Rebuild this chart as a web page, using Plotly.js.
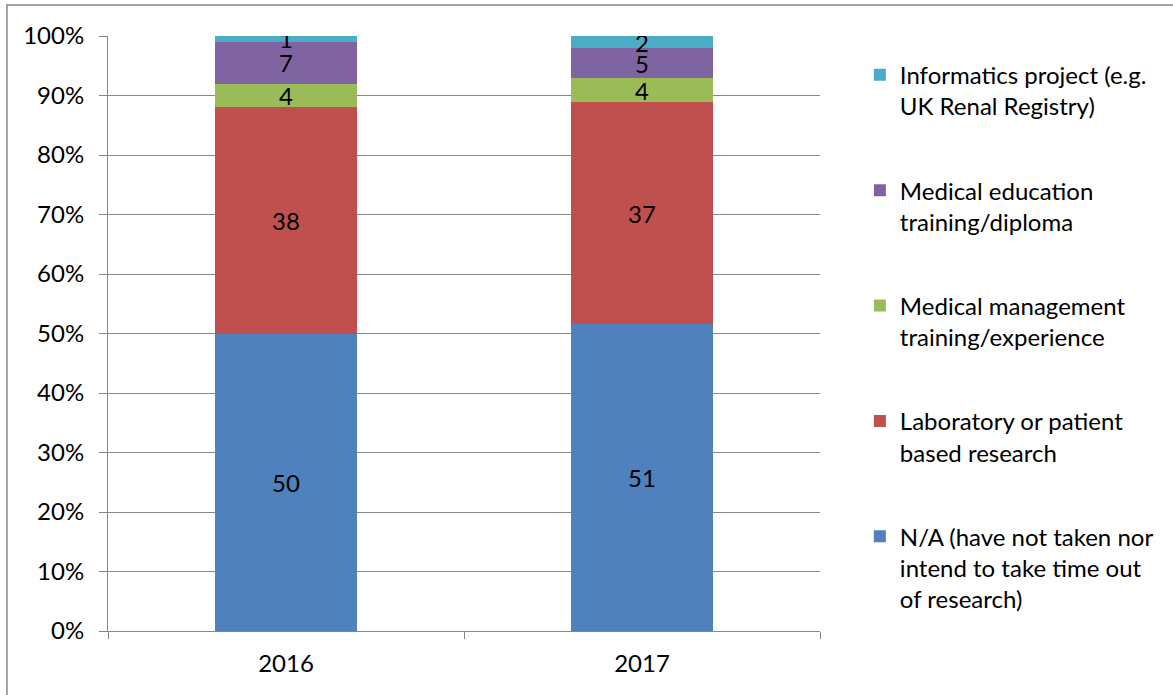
<!DOCTYPE html>
<html>
<head>
<meta charset="utf-8">
<script src="https://cdn.plot.ly/plotly-3.0.1.min.js"></script>
<style>html,body{margin:0;padding:0;background:#fff;}#chart{width:1173px;height:695px;}</style>
</head>
<body>
<div id="chart"></div>
<script>
const years = ['2016', '2017'];
const naValues = [50, 51];
const labValues = [38, 37];
const mgmtValues = [4, 4];
const eduValues = [7, 5];
const infoValues = [1, 2];
const seriesNames = [
  'N/A (have not taken nor<br>intend to take time out<br>of research)',
  'Laboratory or patient<br>based research',
  'Medical management<br>training/experience',
  'Medical education<br>training/diploma',
  'Informatics project (e.g.<br>UK Renal Registry)'
];
const seriesColors = ['#4F81BD', '#C0504D', '#9BBB59', '#8064A2', '#4BACC6'];
const seriesValues = [naValues, labValues, mgmtValues, eduValues, infoValues];

const FONT = 'Lato, "Open Sans", sans-serif';
const FS = 24;
const traces = seriesValues.map((vals, i) => ({
  type: 'bar',
  x: years,
  y: vals,
  name: seriesNames[i],
  legendgroup: 'g' + i,
  legendrank: 100 - i,
  marker: {color: seriesColors[i], line: {width: 0}},
  text: vals.map(String),
  textposition: 'inside',
  insidetextanchor: 'middle',
  constraintext: 'none',
  textangle: 0,
  textfont: {family: FONT, size: FS, color: '#000000'},
  hoverinfo: 'skip'
}));

const layout = {
  width: 1173,
  height: 695,
  barmode: 'stack',
  barnorm: 'percent',
  bargap: 0.6,
  margin: {l: 108, r: 353, t: 36, b: 64},
  paper_bgcolor: '#ffffff',
  plot_bgcolor: '#ffffff',
  font: {family: FONT, size: FS, color: '#000000'},
  showlegend: true,
  legend: {
    x: 1.056, xanchor: 'left', y: 0.972, yanchor: 'top',
    traceorder: 'grouped',
    tracegroupgap: 50,
    valign: 'top',
    font: {family: FONT, size: FS, color: '#000000'},
    bgcolor: 'rgba(0,0,0,0)'
  },
  xaxis: {
    type: 'category',
    showgrid: false,
    showline: true,
    linecolor: '#868686',
    linewidth: 1,
    ticks: 'outside',
    tickson: 'boundaries',
    ticklen: 7,
    tickcolor: '#868686',
    tickfont: {family: FONT, size: FS, color: '#000000'},
    ticklabelstandoff: 11,
    fixedrange: true
  },
  yaxis: {
    range: [0, 100],
    dtick: 10,
    ticksuffix: '%',
    showgrid: true,
    gridcolor: '#868686',
    gridwidth: 1,
    showline: true,
    linecolor: '#868686',
    linewidth: 1,
    ticks: 'outside',
    ticklen: 8,
    tickcolor: '#868686',
    tickfont: {family: FONT, size: FS, color: '#000000'},
    ticklabelstandoff: 10,
    zeroline: false,
    fixedrange: true
  },
  shapes: [{
    type: 'rect', xref: 'paper', yref: 'paper',
    x0: -0.1419, x1: 1.52, y0: -0.12, y1: 1.052,
    line: {color: '#868686', width: 1.5},
    fillcolor: 'rgba(0,0,0,0)',
    layer: 'below'
  }]
};

Plotly.newPlot('chart', traces, layout, {displayModeBar: false, staticPlot: true});
</script>
</body>
</html>
